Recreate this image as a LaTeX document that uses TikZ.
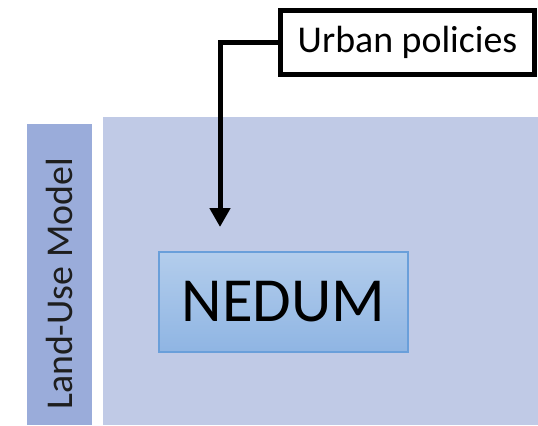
\documentclass[tikz,border=0pt]{standalone}
\usepackage{fontspec}
\setmainfont{Carlito}
\usetikzlibrary{arrows.meta}
\definecolor{panelc}{HTML}{C0CAE6}
\definecolor{sidec}{HTML}{9AACDA}
\definecolor{nedtop}{HTML}{B3CDEC}
\definecolor{nedbot}{HTML}{8FB5E3}
\definecolor{nedline}{HTML}{6A9FDA}
\definecolor{sidetext}{HTML}{1E1E1E}
\tikzset{
  panel/.style={fill=panelc, draw=none, inner sep=0pt, outer sep=0pt},
  sidebar/.style={fill=sidec, draw=none, inner sep=0pt, outer sep=0pt},
  modelbox/.style={top color=nedtop, bottom color=nedbot, draw=nedline, line width=1.2bp,
    minimum width=249bp, minimum height=100bp, inner sep=0pt, font=\fontsize{63}{63}\selectfont},
  inputbox/.style={draw=black, fill=white, line width=5bp, minimum width=254bp, minimum height=64bp,
    inner sep=0pt, font=\fontsize{38}{38}\selectfont},
  flow/.style={line width=5bp, -{Triangle[width=20bp,length=19bp]}}
}
\begin{document}
\begin{tikzpicture}[x=1bp,y=-1bp]
\useasboundingbox (0,0) rectangle (538,425);
\fill[white] (0,0) rectangle (538,425);
\node[panel, minimum width=435bp, minimum height=308bp, anchor=north west] (panel) at (103,117) {};
\node[sidebar, minimum width=65bp, minimum height=301bp, anchor=north west] (side) at (27,124) {};
\node[rotate=90, text=sidetext, font=\fontsize{38}{38}\selectfont] (sidelabel) at (59,284) {Land-Use Model};
\node[modelbox] (nedum) at (283.5,302) {NEDUM};
\node[inputbox] (urban) at (407.5,42.5) {Urban policies};
\coordinate (tip) at (220,227);
\draw[flow] (urban.west) -| (tip);
\end{tikzpicture}
\end{document}
